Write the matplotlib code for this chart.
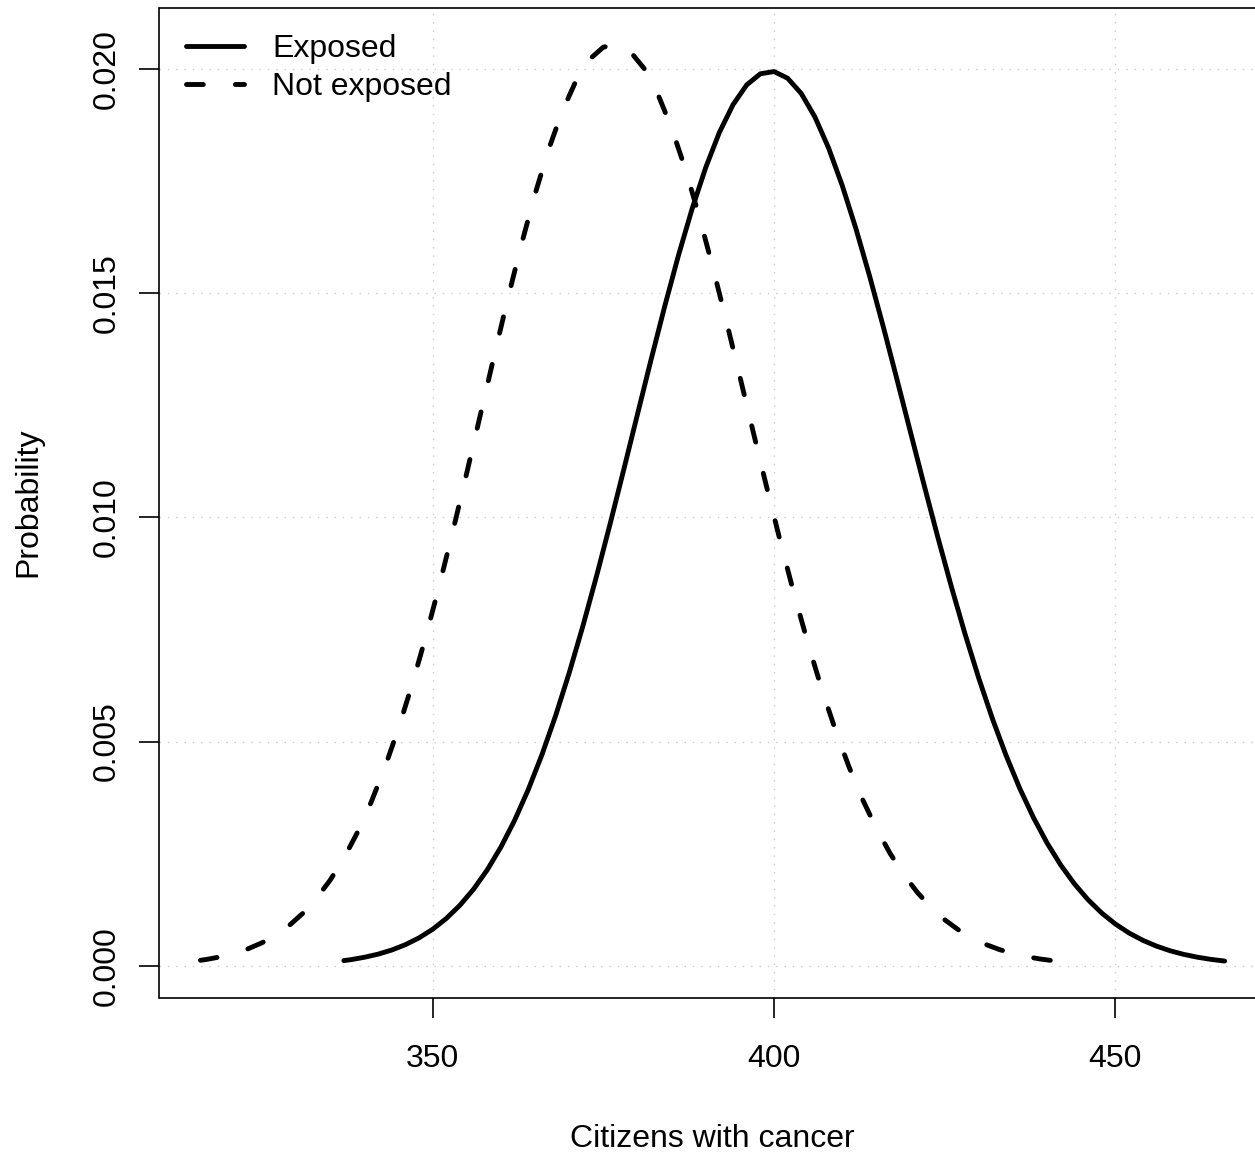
import matplotlib
matplotlib.use("Agg")
import matplotlib.pyplot as plt

plt.rcParams['font.family'] = ['Liberation Sans', 'DejaVu Sans']

# Exposed (solid)
exposed_x = [337, 338, 340, 342, 344, 346, 348, 350, 352, 354, 356, 358, 360, 362, 364,
             366, 368, 370, 372, 374, 376, 378, 380, 382, 384, 386, 388, 390, 392, 394,
             396, 398, 400, 402, 404, 406, 408, 410, 412, 414, 416, 418, 420, 422, 424,
             426, 428, 430, 432, 434, 436, 438, 440, 442, 444, 446, 448, 450, 452, 454,
             456, 458, 460, 462, 464, 466]
exposed_y = [0.000114, 0.000134, 0.000188, 0.000257, 0.000349, 0.000468, 0.000620, 0.000812,
             0.001053, 0.001348, 0.001707, 0.002137, 0.002646, 0.003240, 0.003925, 0.004702,
             0.005571, 0.006530, 0.007572, 0.008686, 0.009858, 0.011069, 0.012299, 0.013523,
             0.014713, 0.015842, 0.016882, 0.017806, 0.018589, 0.019208, 0.019649, 0.019897,
             0.019947, 0.019798, 0.019456, 0.018931, 0.018240, 0.017402, 0.016442, 0.015385,
             0.014257, 0.013086, 0.011896, 0.010712, 0.009555, 0.008443, 0.007390, 0.006409,
             0.005506, 0.004687, 0.003953, 0.003304, 0.002736, 0.002245, 0.001826, 0.001471,
             0.001175, 0.000930, 0.000730, 0.000568, 0.000438, 0.000334, 0.000253, 0.000190,
             0.000141, 0.000104]

# Not exposed (dashed)
notexp_x = [316, 317, 319, 321, 323, 325, 327, 329, 331, 333, 335, 337, 339, 341, 343,
            345, 347, 349, 351, 353, 355, 357, 359, 361, 363, 365, 367, 369, 371, 373,
            375, 377, 379, 381, 383, 385, 387, 389, 391, 393, 395, 397, 399, 401, 403,
            405, 407, 409, 411, 413, 415, 417, 419, 421, 423, 425, 427, 429, 431, 433,
            435, 437, 439, 441]
notexp_y = [0.000120, 0.000143, 0.000200, 0.000277, 0.000379, 0.000511, 0.000682, 0.000898,
            0.001169, 0.001504, 0.001910, 0.002398, 0.002976, 0.003649, 0.004422, 0.005297,
            0.006271, 0.007340, 0.008494, 0.009717, 0.010992, 0.012294, 0.013597, 0.014873,
            0.016088, 0.017212, 0.018214, 0.019065, 0.019740, 0.020221, 0.020492, 0.020547,
            0.020384, 0.020011, 0.019439, 0.018687, 0.017779, 0.016740, 0.015601, 0.014392,
            0.013142, 0.011880, 0.010631, 0.009418, 0.008261, 0.007175, 0.006170, 0.005254,
            0.004430, 0.003700, 0.003060, 0.002506, 0.002033, 0.001634, 0.001300, 0.001025,
            0.000801, 0.000619, 0.000475, 0.000361, 0.000271, 0.000202, 0.000149, 0.000109]

labels = ["Exposed", "Not exposed"]
xticks = [350, 400, 450]
yticks = [0.000, 0.005, 0.010, 0.015, 0.020]
ytick_labels = ["0.000", "0.005", "0.010", "0.015", "0.020"]

W, H = 1255, 1154
fig = plt.figure(figsize=(W / 100, H / 100), dpi=100)
left_px, right_px, top_px, bottom_px = 159.5, 1265.6, 8.0, 997.7
ax = fig.add_axes([left_px / W, 1 - bottom_px / H,
                   (right_px - left_px) / W, (bottom_px - top_px) / H])

FS = 23
LW = 3.5

ax.plot(exposed_x, exposed_y, color='black', lw=LW, solid_capstyle='round',
        solid_joinstyle='round', label=labels[0], zorder=3)
ax.plot(notexp_x, notexp_y, color='black', lw=LW, linestyle=(0, (3.45, 6.6)),
        dash_capstyle='round', dash_joinstyle='round', label=labels[1], zorder=3)

allx = exposed_x + notexp_x
ally = exposed_y + notexp_y
xr = max(allx) - min(allx)
yr = max(ally) - min(ally)
ax.set_xlim(min(allx) - 0.04 * xr, max(allx) + 0.04 * xr)
ax.set_ylim(min(ally) - 0.04 * yr, max(ally) + 0.04 * yr)

ax.set_xticks(xticks)
ax.set_xticklabels([str(v) for v in xticks])
ax.set_yticks(yticks)
ax.set_yticklabels(ytick_labels, rotation=90, va='center')

ax.tick_params(axis='both', length=14.4, width=1.2, labelsize=FS, color='black')
ax.tick_params(axis='x', pad=19)
ax.tick_params(axis='y', pad=12.5)

for v in xticks:
    ax.axvline(v, color='#cccccc', lw=1.0, linestyle=(0, (1, 5)), zorder=1)
for v in yticks:
    ax.axhline(v, color='#cccccc', lw=1.0, linestyle=(0, (1, 5)), zorder=1)

for sp in ax.spines.values():
    sp.set_linewidth(1.2)
    sp.set_color('black')

fig.text(712.5 / W, 1 - 1146.7 / H, "Citizens with cancer", fontsize=FS,
         ha='center', va='baseline')
fig.text(13 / W, 1 - 502 / H, "Probability", fontsize=FS, rotation=90,
         ha='left', va='center')

leg = ax.legend(loc='upper left', bbox_to_anchor=(186 / W, 1 - 34 / H),
                bbox_transform=fig.transFigure, frameon=False, fontsize=FS,
                handlelength=1.8, handletextpad=0.9, borderpad=0, borderaxespad=0,
                labelspacing=0.25)

fig.savefig("out.png", dpi=100)
